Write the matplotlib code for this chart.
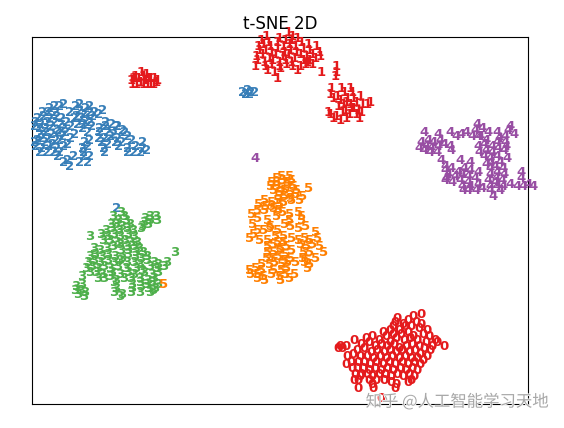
import matplotlib
matplotlib.use("Agg")
import matplotlib.pyplot as plt
import matplotlib.patheffects as pe

# embedding values (glyph centres)
points_0 = [
    (338,349),(342,348),(346,347),(340,346),(354,341),(444,347),(421,315),(413,317),(408,320),(395,322),
    (393,327),(397,319),(403,324),(416,323),(421,324),(390,331),(399,330),(405,327),(411,326),(419,329),(427,331),
    (386,337),(393,334),(401,335),(408,332),(413,336),(423,335),(429,337),(435,340),(437,343),
    (366,338),(372,336),(379,340),(383,333),(390,342),(396,339),(404,341),(410,338),(417,341),(426,343),(432,346),
    (361,344),(369,343),(375,347),(381,345),(387,347),(394,345),(399,348),(406,346),(412,344),(419,347),(424,349),(430,351),
    (357,350),(364,349),(371,352),(377,351),(384,352),(390,350),(396,353),(402,351),(409,352),(415,351),(420,354),(427,356),
    (347,357),(353,355),(360,356),(367,357),(373,358),(380,356),(386,358),(392,356),(399,358),(405,356),(411,358),(417,359),(423,361),
    (346,364),(351,362),(358,362),(364,363),(370,364),(376,362),(383,364),(389,362),(395,364),(402,363),(408,364),(414,363),(420,365),
    (352,368),(357,369),(363,368),(369,370),(375,368),(381,370),(387,368),(393,371),(400,369),(406,370),(412,368),(417,371),
    (355,374),(361,375),(367,374),(372,376),(379,375),(385,374),(391,377),(397,375),(403,376),(409,374),(414,377),
    (354,380),(358,381),(360,377),(358,388),(369,380),(372,385),(373,388),(376,381),(384,381),(391,382),(396,385),(395,388),(408,382),(411,381),(381,398),
]
points_1 = [
    # small group
    (132,84),(133,79),(136,85),(138,79),(141,73),(143,76),(145,81),(147,85),(150,84),(150,79),
    (153,85),(156,83),(157,80),(143,85),(140,83),(135,76),(146,74),(148,79),(154,79),(131,81),
    # top group
    (266,37),(288,33),(292,36),(261,41),(268,42),(279,39),(285,41),(291,41),(297,38),
    (258,46),(263,44),(270,47),(277,43),(283,46),(289,45),(295,47),(301,43),(308,44),
    (259,51),(265,50),(271,53),(277,49),(284,52),(290,50),(296,53),(303,49),(309,51),(316,47),
    (256,56),(262,55),(269,58),(275,55),(282,57),(288,55),(294,58),(300,55),(306,57),(312,54),(319,52),
    (257,61),(264,62),(272,60),(279,63),(285,60),(291,62),(303,61),(309,60),(315,59),(320,56),
    (255,66),(265,67),(271,65),(279,67),(286,64),(292,66),(305,65),(312,65),(267,70),(280,69),
    (274,72),(277,79),(321,73),(336,67),(336,72),(335,77),(297,70),(300,66),(307,63),
    # lower right group
    (331,88),(341,89),(350,88),(330,94),(337,96),(344,93),(352,93),(333,99),(340,100),(347,98),
    (353,99),(360,97),(343,105),(350,104),(356,103),(362,104),(367,104),(370,103),(345,110),(351,109),
    (358,110),(330,115),(336,116),(342,113),(349,115),(356,114),(361,113),(333,119),(340,120),(346,118),
    (359,118),(328,113),(338,107),(346,103),(353,108),
]
points_2 = [
    (243,92),(248,91),(251,92),(255,92),(246,94),(250,94),(117,209),
    (50,108),(55,106),(60,107),(64,105),(76,107),(80,105),(86,109),(90,107),(70,112),
    (43,112),(49,113),(56,112),(80,111),(84,114),(90,112),(95,112),(103,110),(77,116),
    (38,118),(44,117),(50,119),(57,116),(62,118),(75,119),(82,118),(87,120),(93,117),(99,115),
    (36,122),(41,124),(48,122),(55,123),(61,125),(67,122),(78,124),(84,124),(90,122),(106,122),(112,124),(117,127),
    (35,127),(40,129),(46,128),(52,127),(58,130),(64,128),(71,127),(83,129),(92,127),(100,128),(106,127),(118,126),(123,130),
    (40,134),(46,133),(52,135),(59,133),(66,132),(75,134),(88,133),(100,133),(108,132),(114,134),(125,133),
    (42,139),(49,138),(56,140),(63,137),(71,139),(99,138),(105,139),(111,137),(118,139),(128,137),
    (35,143),(38,141),(45,143),(53,144),(60,141),(68,144),(85,143),(90,141),(102,143),(108,144),(116,143),(122,142),(132,141),(143,143),
    (36,147),(42,148),(49,147),(57,149),(64,147),(83,148),(88,147),(104,148),(119,147),(128,148),(136,147),(143,148),(147,150),
    (40,152),(47,153),(54,152),(60,153),(84,152),(105,152),(128,152),(134,153),(141,152),
    (58,157),(74,157),(84,157),(90,157),(64,162),(68,160),(80,162),(88,163),(70,166),
]
points_3 = [
    (175,253),(82,277),(90,237),
    (76,286),(82,285),(75,291),(81,290),(85,292),(78,295),(84,296),
    (145,218),(150,216),(156,216),(144,222),(150,221),(157,220),(142,226),(148,225),(141,229),
    (113,216),(121,213),(124,216),(118,220),(126,220),(111,225),(116,224),(122,226),(130,224),
    (106,230),(112,229),(119,231),(127,229),(133,231),(101,235),(107,236),(114,234),(120,236),(128,235),(134,237),
    (103,241),(110,240),(117,242),(125,240),(131,242),(137,243),(113,246),(120,245),(127,247),(134,246),
    (94,249),(100,251),(107,249),(121,251),(128,250),(136,252),(139,249),(143,253),
    (90,256),(95,254),(102,257),(108,255),(115,256),(122,258),(128,255),(135,257),(141,258),(147,256),
    (88,262),(94,260),(100,263),(108,261),(114,263),(120,261),(127,263),(134,262),(140,264),(147,261),(154,263),(158,265),(167,263),
    (86,268),(92,267),(98,269),(104,267),(110,269),(118,267),(126,269),(136,268),(142,270),(150,267),(156,269),(164,266),
    (90,273),(96,272),(102,275),(112,273),(120,274),(128,273),(134,275),(144,273),(152,274),(158,272),
    (98,278),(104,279),(110,277),(116,280),(124,278),(131,279),(140,278),(148,280),(154,278),
    (114,283),(132,284),(140,283),(146,285),(152,283),(158,284),
    (116,288),(132,289),(141,287),(148,289),(155,288),
    (114,292),(131,293),(140,292),(150,293),(153,291),(120,296),(122,294),
]
points_4 = [
    (255,158),
    (424,133),(438,135),(421,142),(428,140),(433,143),(440,141),(419,148),(426,147),(431,149),(438,146),(444,145),(450,147),
    (424,151),(430,153),(437,152),(451,151),(450,133),(456,136),(461,135),(466,133),(472,136),(478,137),
    (477,124),(475,130),(482,128),(488,132),(497,133),(510,126),(508,131),(505,137),(514,135),(499,139),(505,143),(480,136),(486,141),
    (478,146),(484,144),(492,147),(497,143),(506,147),(479,152),(486,150),(492,153),(498,149),(504,151),
    (484,157),(490,159),(497,156),(507,158),(486,164),(491,163),(495,166),(500,162),(441,160),(445,166),(460,161),(470,162),
    (445,171),(451,169),(458,172),(464,168),(470,171),(490,169),(497,172),(503,168),
    (448,175),(455,177),(462,174),(468,177),(478,172),(490,175),(496,178),(504,174),(446,178),(521,172),(521,178),
    (445,180),(452,182),(460,180),(468,183),(475,179),(488,181),(495,183),(502,180),
    (462,186),(470,187),(478,185),(490,187),(497,186),(463,190),(468,190),(476,190),(482,189),(490,191),
    (503,186),(510,185),(517,187),(523,186),(528,185),(533,186),(493,197),(500,191),
]
points_5 = [
    (164,284),
    (277,178),(282,176),(290,177),(272,182),(277,183),(283,180),(288,182),(292,180),
    (271,187),(277,186),(282,188),(288,185),(294,187),(309,189),(274,191),(280,193),(285,190),(291,192),(297,190),
    (279,197),(285,196),(291,198),(296,195),(303,197),(265,200),(272,202),(278,200),(284,202),(292,200),(300,201),
    (259,205),(266,206),(272,207),(280,205),(258,210),(265,211),(274,209),(279,211),
    (283,213),(290,215),(299,213),(302,216),(252,215),(258,219),(268,221),(277,217),(290,220),(302,220),
    (253,224),(271,226),(285,225),(291,226),(306,227),(258,230),(264,231),(270,229),(278,231),(299,228),
    (254,235),(250,239),(260,240),(276,237),(284,236),(292,238),(316,233),
    (268,241),(278,242),(284,243),(299,240),(305,238),(310,240),(318,238),
    (268,247),(274,245),(281,248),(287,246),(301,245),(307,247),(313,245),(320,246),
    (268,252),(274,253),(280,251),(286,254),(292,251),(304,252),(310,253),(324,252),
    (267,258),(273,259),(279,257),(285,260),(291,258),(303,258),(308,260),(316,258),
    (262,264),(270,265),(275,263),(282,265),(288,263),(296,263),(305,263),(310,265),
    (250,270),(256,269),(262,271),(274,270),(282,271),(287,269),(308,268),
    (251,275),(258,275),(264,276),(272,275),(280,276),(286,274),(295,274),(258,279),(265,280),(281,280),(290,278),
]

digit_points = [points_0, points_1, points_2, points_3, points_4, points_5]

W, H = 564, 428
fig = plt.figure(figsize=(W / 100, H / 100), dpi=100)
ax = fig.add_axes([32 / W, (H - 404) / H, 496 / W, 367 / H])
ax.set_xlim(32, 528)
ax.set_ylim(404, 37)
ax.set_xticks([])
ax.set_yticks([])

# same colour rule as sklearn's digit embedding plots
for digit, pts in enumerate(digit_points):
    for x, y in pts:
        ax.text(x, y, str(digit), color=plt.cm.Set1(digit / 10.0),
                fontdict={"weight": "bold", "size": 9.5}, ha="center", va="center")

ax.set_title("t-SNE 2D", fontsize=12)

# site watermark
fig.text(457 / W, (H - 402) / H, "知乎 @人工智能学习天地", ha="center", va="center",
         fontsize=11.8, family=["Noto Sans CJK SC", "DejaVu Sans"], color="#a8a8a8",
         path_effects=[pe.withStroke(linewidth=1.0, foreground="#ffffff")])

fig.savefig("out.png", dpi=100)
